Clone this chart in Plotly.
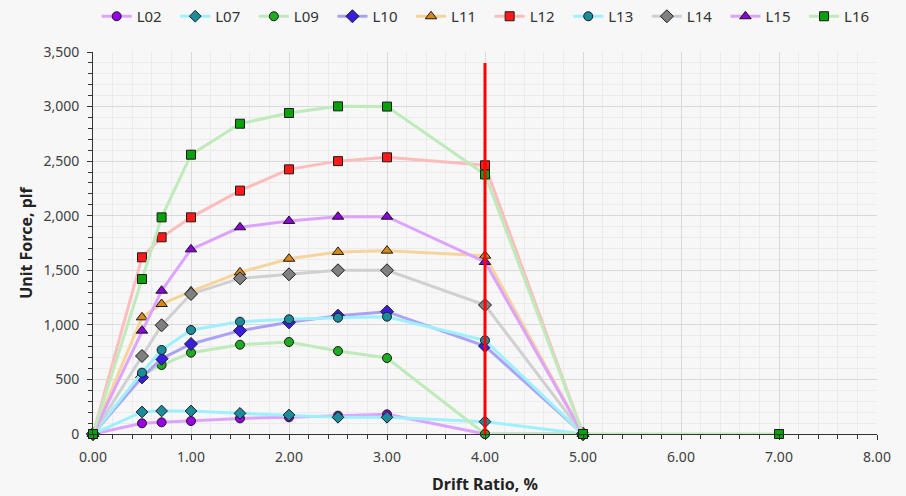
import plotly.graph_objects as go

# Drift ratio (%) at which each specimen was sampled
drift = [0.0, 0.5, 0.7, 1.0, 1.5, 2.0, 2.5, 3.0, 4.0, 5.0]
drift_l16 = [0.0, 0.5, 0.7, 1.0, 1.5, 2.0, 2.5, 3.0, 4.0, 5.0, 7.0]

# Unit force (plf) per specimen
l02 = [0, 98, 107, 119, 143, 153, 168, 180, 0, 0]
l07 = [0, 202, 211, 211, 189, 174, 153, 153, 113, 0]
l09 = [0, 540, 632, 745, 818, 843, 760, 696, 0, 0]
l10 = [0, 519, 690, 825, 947, 1023, 1084, 1121, 806, 0]
l11 = [0, 1069, 1191, 1307, 1481, 1606, 1668, 1680, 1634, 0]
l12 = [0, 1619, 1802, 1985, 2230, 2425, 2500, 2535, 2462, 0]
l13 = [0, 562, 770, 953, 1029, 1051, 1066, 1075, 858, 0]
l14 = [0, 715, 996, 1283, 1426, 1463, 1500, 1500, 1182, 0]
l15 = [0, 947, 1313, 1692, 1894, 1952, 1991, 1991, 1576, 0]
l16 = [0, 1420, 1985, 2559, 2843, 2941, 3002, 3000, 2378, 0, 0]

# Limit line
limit_x = [4.0, 4.0]
limit_y = [0, 3400]

series = [
    ("L02", drift, l02, "#dda3ff", "#9a00e6", "circle", 9),
    ("L07", drift, l07, "#9ef0ff", "#1b8c9c", "diamond", 9),
    ("L09", drift, l09, "#bfeabb", "#1faa24", "circle", 9),
    ("L10", drift, l10, "#aaa2f4", "#3a1ee0", "diamond", 10),
    ("L11", drift, l11, "#f6d49c", "#d9861a", "triangle-up", 10),
    ("L12", drift, l12, "#ffbcbc", "#ff1a1a", "square", 9),
    ("L13", drift, l13, "#9ef0ff", "#1a8c9c", "circle", 9),
    ("L14", drift, l14, "#d0d0d0", "#808080", "diamond", 10),
    ("L15", drift, l15, "#dda3ff", "#8a00d8", "triangle-up", 10),
    ("L16", drift_l16, l16, "#bfeabb", "#0aa00a", "square", 9),
]

fig = go.Figure()
for name, xs, ys, lc, mc, sym, sz in series:
    fig.add_trace(go.Scatter(
        x=xs, y=ys, name=name, mode="lines+markers",
        line=dict(color=lc, width=3),
        marker=dict(symbol=sym, size=sz, color=mc,
                    line=dict(color="#1a1a1a", width=1)),
        cliponaxis=False,
    ))

fig.add_trace(go.Scatter(
    x=limit_x, y=limit_y, mode="lines", showlegend=False,
    line=dict(color="#ff0000", width=3), hoverinfo="skip",
))

font_family = "'Noto Sans', 'Open Sans', sans-serif"
fig.update_layout(
    width=906, height=496,
    margin=dict(l=93, r=29, t=52, b=62, autoexpand=False),
    paper_bgcolor="#f7f7f7", plot_bgcolor="#f7f7f7",
    font=dict(family=font_family, size=14, color="#404040"),
    legend=dict(orientation="h", x=0.541, xanchor="center", xref="container",
                y=1.0, yanchor="top", yref="container",
                font=dict(size=15, color="#333333"),
                bgcolor="rgba(0,0,0,0)", entrywidth=33.6, entrywidthmode="pixels"),
    showlegend=True,
)

fig.update_xaxes(
    range=[0, 8], tickvals=[0, 1, 2, 3, 4, 5, 6, 7, 8],
    ticktext=["0.00", "1.00", "2.00", "3.00", "4.00", "5.00", "6.00", "7.00", "8.00"],
    showgrid=True, gridcolor="#d9d9d9", gridwidth=1,
    minor=dict(dtick=0.2, showgrid=True, gridcolor="#ebebeb", ticks="outside",
               ticklen=4, tickcolor="#333333"),
    ticks="outside", ticklen=5, tickcolor="#333333",
    showline=True, linecolor="#333333", linewidth=1,
    zeroline=False, ticklabelstandoff=5,
    title=dict(text="<b>Drift Ratio, %</b>", font=dict(size=16, color="#222222"), standoff=14),
    tickfont=dict(size=14, color="#404040"),
)
fig.update_yaxes(
    range=[0, 3500], dtick=500, tickformat=",",
    showgrid=True, gridcolor="#d9d9d9", gridwidth=1,
    minor=dict(dtick=100, showgrid=True, gridcolor="#ebebeb", ticks="outside",
               ticklen=4, tickcolor="#333333"),
    ticks="outside", ticklen=5, tickcolor="#333333",
    showline=True, linecolor="#333333", linewidth=1,
    zeroline=False, ticklabelstandoff=5,
    title=dict(text="<b>Unit Force, plf</b>", font=dict(size=16, color="#222222"), standoff=6),
    tickfont=dict(size=14, color="#404040"),
)

fig.write_html("out.html")
